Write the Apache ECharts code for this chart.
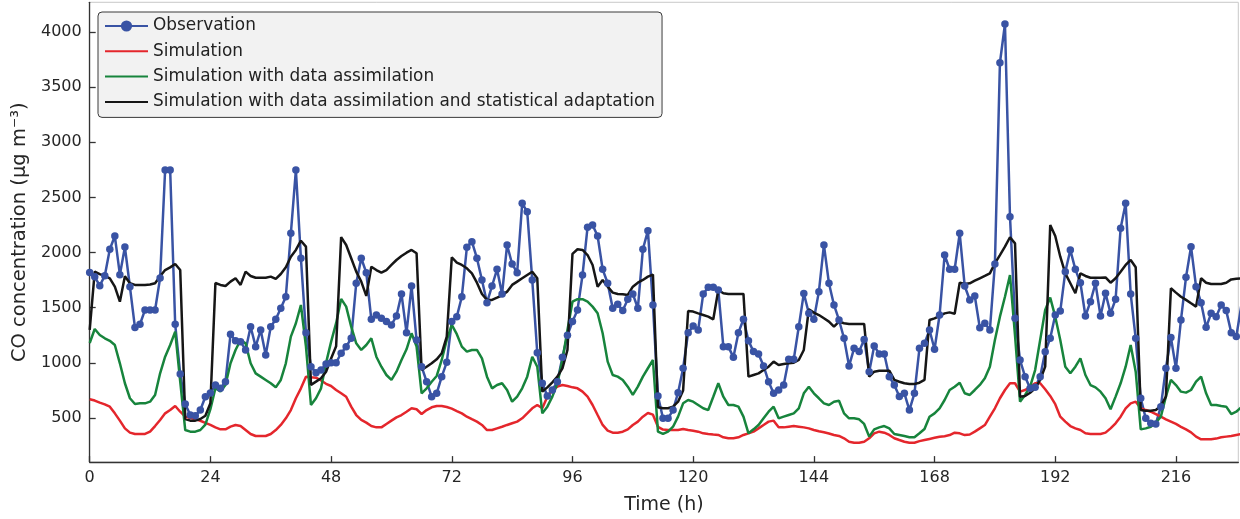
<!DOCTYPE html>
<html><head><meta charset="utf-8">
<script src="https://cdn.jsdelivr.net/npm/echarts@6/dist/echarts.min.js"></script>
<style>html,body{margin:0;padding:0;background:#fff}#c{width:1240px;height:519px}</style>
</head><body><div id="c"></div>
<script>
const xTicks = [0,24,48,72,96,120,144,168,192,216];
const yTicks = [500,1000,1500,2000,2500,3000,3500,4000];
const seriesNames = ['Observation','Simulation','Simulation with data assimilation','Simulation with data assimilation and statistical adaptation'];

const observation = [
1820,1780,1700,1790,2030,2150,1800,2050,1690,1320,
1350,1480,1480,1480,1770,2750,2750,1350,900,627,
527,521,572,693,726,800,770,829,1259,1201,
1192,1117,1328,1147,1298,1071,1328,1395,1495,1600,
2175,2749,1948,1274,965,911,935,990,1002,1002,
1087,1147,1223,1722,1949,1818,1395,1434,1404,1374,
1344,1425,1625,1274,1697,1207,965,829,693,724,
875,1005,1374,1419,1600,2048,2099,1949,1752,1546,
1697,1848,1625,2069,1897,1818,2447,2371,1752,1092,
815,700,754,829,1050,1250,1374,1480,1797,2230,
2251,2151,1848,1722,1495,1531,1474,1577,1625,1495,
2030,2199,1525,700,497,497,572,730,951,1274,
1334,1298,1625,1686,1686,1661,1147,1147,1050,1274,
1395,1201,1102,1081,972,829,724,754,799,1032,
1032,1328,1630,1450,1395,1646,2069,1722,1525,1389,
1223,972,1132,1102,1213,920,1153,1081,1081,875,
799,694,724,572,724,1132,1177,1298,1123,1434,
1978,1849,1849,2175,1697,1570,1607,1319,1359,1298,
1897,3722,4073,2326,1404,1026,875,769,778,875,
1100,1223,1434,1470,1827,2024,1848,1727,1425,1555,
1722,1425,1631,1449,1577,2220,2447,1625,1223,679,
497,452,446,603,951,1230,951,1389,1776,2054,
1691,1546,1322,1449,1419,1525,1474,1274,1238,1520];

const simulation = [
670,658,639,624,603,542,476,406,367,355,
355,355,376,427,482,542,572,609,557,512,
500,490,475,455,437,415,397,397,422,437,
427,391,355,337,337,337,355,391,437,497,
572,679,769,875,870,866,840,810,790,754,
724,693,603,527,482,458,427,415,415,446,
476,506,527,557,588,579,536,572,597,609,
609,600,585,563,542,512,489,467,437,391,
391,406,421,437,452,467,497,542,588,618,
588,693,754,784,799,790,778,769,739,693,
618,527,437,386,367,367,376,397,437,467,
512,545,530,420,395,391,391,391,400,391,
385,376,361,355,350,346,325,316,316,325,
346,361,376,406,437,467,476,415,415,421,
427,421,415,406,391,380,370,360,346,337,
316,285,276,276,285,316,361,376,367,346,
316,300,285,276,276,290,300,310,320,330,
335,345,367,361,345,350,376,406,436,512,
588,679,754,815,815,739,754,784,815,815,
760,700,625,512,467,427,406,391,361,355,
355,355,367,406,452,512,588,633,648,588,
572,557,536,512,488,467,446,420,397,370,
331,307,307,307,313,325,331,337,346,355];

const simulationDA = [
1180,1307,1253,1223,1200,1162,996,815,679,627,
633,633,648,709,905,1056,1162,1283,830,391,
376,376,391,440,580,770,740,800,996,1117,
1207,1177,996,905,875,845,815,778,845,996,
1238,1359,1525,1150,618,679,769,1000,1190,1360,
1580,1510,1328,1177,1117,1162,1223,1056,965,890,
845,920,1026,1123,1268,1147,724,769,829,881,
1026,1207,1344,1260,1147,1102,1117,1117,1041,875,
769,799,815,754,648,694,769,875,1056,965,
542,603,694,815,1026,1298,1555,1577,1577,1555,
1510,1450,1268,1011,890,875,845,784,709,784,
875,951,1026,376,355,376,421,512,633,663,
648,618,588,572,693,815,693,618,618,603,
512,361,397,437,497,557,603,497,512,527,
542,588,724,784,724,679,633,618,648,657,
542,497,497,488,446,331,397,415,427,406,
355,346,337,325,325,361,400,512,542,588,
663,754,784,820,724,709,754,800,860,965,
1207,1419,1600,1797,1250,648,709,784,935,1207,
1480,1592,1419,1207,965,905,965,1041,890,799,
778,739,679,579,694,815,965,1162,920,397,
406,421,458,512,694,845,799,739,730,754,
829,875,724,618,618,609,603,536,557,597];

const simulationDASA = [
1300,1827,1805,1788,1767,1691,1555,1785,1722,1707,
1707,1707,1710,1722,1785,1842,1866,1897,1842,491,
476,476,491,520,633,1724,1707,1697,1737,1767,
1707,1827,1788,1772,1772,1772,1782,1761,1806,1867,
1963,2024,2108,2054,800,830,860,920,1040,1150,
2140,2069,1949,1827,1737,1607,1872,1842,1818,1842,
1888,1933,1969,1999,2024,1994,935,965,996,1032,
1087,1238,1958,1909,1888,1858,1812,1727,1625,1571,
1571,1591,1613,1646,1707,1737,1767,1797,1827,1767,
739,778,823,875,950,1117,1988,2030,2024,1978,
1888,1691,1752,1691,1637,1625,1622,1616,1691,1727,
1752,1782,1800,597,588,588,603,648,750,1470,
1465,1449,1434,1419,1395,1661,1631,1625,1625,1625,
1625,875,890,905,935,965,1011,981,990,996,
1002,1026,1117,1486,1456,1434,1404,1374,1328,1374,
1359,1353,1353,1353,1353,875,920,929,929,929,
845,829,815,809,809,820,845,1389,1404,1425,
1449,1458,1446,1727,1715,1721,1745,1767,1788,1812,
1903,1978,2054,2139,2084,693,699,729,769,845,
966,2251,2150,1963,1812,1722,1631,1812,1788,1772,
1772,1772,1775,1727,1767,1827,1888,1933,1867,572,
566,566,572,609,693,1676,1637,1600,1571,1540,
1510,1767,1727,1715,1715,1715,1727,1757,1763,1767];

const FONT = 'DejaVu Sans';
const toXY = arr => arr.map((v, i) => [i, v]);
const colors = ['#3953a4', '#e4262c', '#17843c', '#161616'];

const chart = echarts.init(document.getElementById('c'), null, {renderer: 'canvas'});
chart.setOption({
  animation: false,
  backgroundColor: '#ffffff',
  grid: {left: 89.7, right: 1.7, top: 2.3, bottom: 56.9, containLabel: false, outerBoundsMode: 'none',
         show: true, borderColor: '#c8c8c8', borderWidth: 1, backgroundColor: 'transparent'},
  legend: {
    orient: 'vertical', left: 98, top: 12,
    itemWidth: 43, itemHeight: 14, itemGap: 8.3,
    padding: [5.5, 7, 7, 6],
    backgroundColor: '#f2f2f2', borderColor: '#3a3a3a', borderWidth: 1, borderRadius: 4,
    textStyle: {fontFamily: FONT, fontSize: 16.9, color: '#222222'},
    data: [
      {name: seriesNames[0]},
      {name: seriesNames[1], itemStyle: {opacity: 0}},
      {name: seriesNames[2], itemStyle: {opacity: 0}},
      {name: seriesNames[3], itemStyle: {opacity: 0}}
    ]
  },
  xAxis: {
    type: 'value', min: 0, max: 228.4,
    axisLine: {show: true, onZero: false, lineStyle: {color: '#333333', width: 1.3}},
    axisTick: {show: true, inside: true, length: 6, customValues: xTicks, lineStyle: {color: '#333333', width: 1.3}},
    axisLabel: {customValues: xTicks, margin: 8, fontFamily: FONT, fontSize: 16, color: '#262626',
                formatter: v => String(v)},
    splitLine: {show: false},
    name: 'Time (h)', nameLocation: 'middle', nameGap: 33,
    nameTextStyle: {fontFamily: FONT, fontSize: 19, color: '#262626'}
  },
  yAxis: {
    type: 'value', min: 100, max: 4270,
    axisLine: {show: true, lineStyle: {color: '#333333', width: 1.3}},
    axisTick: {show: true, inside: true, length: 6, customValues: yTicks, lineStyle: {color: '#333333', width: 1.3}},
    axisLabel: {customValues: yTicks, margin: 8, fontFamily: FONT, fontSize: 16, color: '#262626',
                formatter: v => String(v)},
    splitLine: {show: false},
    name: 'CO concentration (μg m⁻³)', nameLocation: 'middle', nameGap: 57,
    nameTextStyle: {fontFamily: FONT, fontSize: 19.5, color: '#262626'}
  },
  series: [
    {name: seriesNames[0], type: 'line', data: toXY(observation), clip: true,
     symbol: 'circle', symbolSize: 7.5, showSymbol: true,
     lineStyle: {color: colors[0], width: 2.5}, itemStyle: {color: colors[0]}},
    {name: seriesNames[1], type: 'line', data: toXY(simulation), clip: true, symbol: 'none',
     lineStyle: {color: colors[1], width: 2.5}, itemStyle: {color: colors[1]}},
    {name: seriesNames[2], type: 'line', data: toXY(simulationDA), clip: true, symbol: 'none',
     lineStyle: {color: colors[2], width: 2.5}, itemStyle: {color: colors[2]}},
    {name: seriesNames[3], type: 'line', data: toXY(simulationDASA), clip: true, symbol: 'none',
     lineStyle: {color: colors[3], width: 2.5}, itemStyle: {color: colors[3]}}
  ]
});
</script>
</body></html>
